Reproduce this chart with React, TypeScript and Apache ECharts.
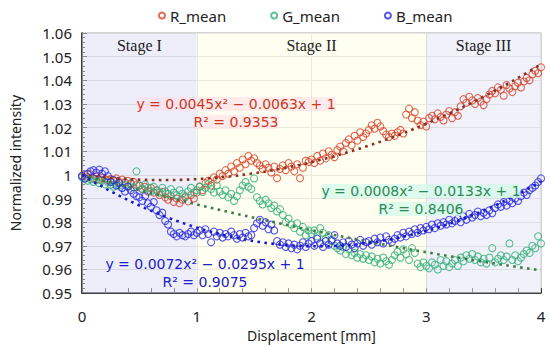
import React, { useEffect, useRef } from "react";
import * as echarts from "echarts";

// Displacement sampled every 0.025 mm from 0 to 4 mm (161 samples)
const X_STEP = 0.025;

const R_MEAN = [
  0.9995, 1.0000, 0.9990, 1.0002, 0.9985, 0.9992, 0.9980, 0.9988, 0.9983, 0.9978,
  0.9982, 0.9976, 0.9985, 0.9970, 0.9980, 0.9968, 0.9975, 0.9962, 0.9970, 0.9958,
  0.9955, 0.9940, 0.9950, 0.9930, 0.9945, 0.9925, 0.9935, 0.9915, 0.9928, 0.9905,
  0.9895, 0.9910, 0.9885, 0.9900, 0.9880, 0.9895, 0.9905, 0.9888, 0.9915, 0.9900,
  0.9925, 0.9950, 0.9935, 0.9965, 0.9975, 0.9955, 0.9990, 0.9980, 1.0005, 0.9995,
  1.0020, 1.0005, 1.0035, 1.0015, 1.0050, 1.0030, 1.0065, 1.0045, 1.0080, 1.0060,
  1.0070, 1.0050, 1.0040, 1.0025, 1.0045, 1.0030, 1.0010, 1.0035, 0.9986, 1.0025,
  1.0040, 1.0020, 1.0050, 1.0035, 1.0015, 1.0045, 0.9986, 1.0030, 1.0060, 1.0055,
  1.0065, 1.0050, 1.0080, 1.0060, 1.0090, 1.0070, 1.0100, 1.0085, 1.0075, 1.0105,
  1.0120, 1.0100, 1.0135, 1.0150, 1.0125, 1.0165, 1.0145, 1.0180, 1.0160, 1.0175,
  1.0190, 1.0210, 1.0195, 1.0220, 1.0205, 1.0185, 1.0170, 1.0160, 1.0175, 1.0165,
  1.0180, 1.0190, 1.0175, 1.0255, 1.0280, 1.0240, 1.0265, 1.0230, 1.0210, 1.0225,
  1.0205, 1.0240, 1.0250, 1.0235, 1.0260, 1.0245, 1.0230, 1.0255, 1.0270, 1.0240,
  1.0265, 1.0250, 1.0290, 1.0320, 1.0305, 1.0330, 1.0315, 1.0300, 1.0325, 1.0310,
  1.0295, 1.0320, 1.0340, 1.0355, 1.0345, 1.0370, 1.0360, 1.0335, 1.0380, 1.0365,
  1.0350, 1.0375, 1.0390, 1.0370, 1.0395, 1.0410, 1.0400, 1.0425, 1.0440, 1.0430, 1.0455,
];

const G_MEAN = [
  0.9990, 0.9985, 0.9975, 0.9982, 0.9970, 0.9978, 0.9965, 0.9975, 0.9960, 0.9970,
  0.9958, 0.9950, 0.9962, 0.9955, 0.9945, 0.9960, 0.9952, 0.9965, 0.9948, 1.0015,
  0.9955, 0.9940, 0.9960, 0.9945, 0.9930, 0.9950, 0.9935, 0.9925, 0.9945, 0.9930,
  0.9920, 0.9940, 0.9925, 0.9915, 0.9935, 0.9920, 0.9910, 0.9930, 0.9945, 0.9925,
  0.9935, 0.9950, 0.9928, 0.9945, 0.9960, 0.9940, 0.9925, 0.9955, 0.9930, 0.9915,
  0.9935, 0.9905, 0.9920, 0.9890, 0.9910, 0.9935, 0.9955, 0.9970, 0.9950, 0.9940,
  0.9985, 0.9905, 0.9890, 0.9875, 0.9895, 0.9880, 0.9860, 0.9870, 0.9845, 0.9855,
  0.9830, 0.9800, 0.9815, 0.9790, 0.9775, 0.9795, 0.9760, 0.9780, 0.9745, 0.9765,
  0.9750, 0.9765, 0.9740, 0.9775, 0.9755, 0.9730, 0.9745, 0.9720, 0.9700, 0.9690,
  0.9680, 0.9695, 0.9665, 0.9685, 0.9660, 0.9670, 0.9650, 0.9665, 0.9645, 0.9660,
  0.9640, 0.9655, 0.9630, 0.9645, 0.9625, 0.9650, 0.9635, 0.9620, 0.9640, 0.9660,
  0.9675, 0.9650, 0.9685, 0.9665, 0.9640, 0.9690, 0.9670, 0.9625, 0.9610, 0.9630,
  0.9615, 0.9605, 0.9630, 0.9620, 0.9600, 0.9640, 0.9615, 0.9635, 0.9610, 0.9625,
  0.9640, 0.9615, 0.9650, 0.9635, 0.9660, 0.9645, 0.9665, 0.9640, 0.9655, 0.9630,
  0.9645, 0.9625, 0.9650, 0.9690, 0.9630, 0.9645, 0.9660, 0.9640, 0.9655, 0.9710,
  0.9640, 0.9660, 0.9635, 0.9650, 0.9665, 0.9680, 0.9670, 0.9700, 0.9690, 0.9740, 0.9710,
];

const B_MEAN = [
  0.9995, 0.9985, 1.0005, 1.0015, 1.0020, 1.0010, 1.0022, 1.0005, 1.0015, 0.9995,
  0.9970, 0.9978, 0.9955, 0.9965, 0.9945, 0.9930, 0.9950, 0.9935, 0.9920, 0.9910,
  0.9905, 0.9890, 0.9910, 0.9880, 0.9865, 0.9885, 0.9850, 0.9830, 0.9840, 0.9805,
  0.9790, 0.9760, 0.9750, 0.9740, 0.9755, 0.9745, 0.9740, 0.9750, 0.9760, 0.9745,
  0.9755, 0.9765, 0.9745, 0.9770, 0.9750, 0.9715, 0.9760, 0.9740, 0.9755, 0.9735,
  0.9750, 0.9740, 0.9760, 0.9745, 0.9730, 0.9750, 0.9735, 0.9755, 0.9740, 0.9745,
  0.9775, 0.9795, 0.9810, 0.9785, 0.9800, 0.9770, 0.9790, 0.9765, 0.9720, 0.9705,
  0.9715, 0.9695, 0.9710, 0.9690, 0.9705, 0.9685, 0.9700, 0.9715, 0.9695, 0.9710,
  0.9720, 0.9700, 0.9730, 0.9710, 0.9695, 0.9720, 0.9705, 0.9725, 0.9745, 0.9710,
  0.9700, 0.9715, 0.9695, 0.9720, 0.9705, 0.9690, 0.9710, 0.9725, 0.9700, 0.9715,
  0.9720, 0.9705, 0.9730, 0.9715, 0.9735, 0.9710, 0.9740, 0.9725, 0.9715, 0.9730,
  0.9745, 0.9735, 0.9755, 0.9740, 0.9760, 0.9750, 0.9770, 0.9755, 0.9775, 0.9765,
  0.9780, 0.9770, 0.9790, 0.9775, 0.9795, 0.9785, 0.9800, 0.9790, 0.9810, 0.9795,
  0.9805, 0.9815, 0.9800, 0.9825, 0.9810, 0.9835, 0.9820, 0.9830, 0.9845, 0.9825,
  0.9840, 0.9830, 0.9850, 0.9838, 0.9860, 0.9875, 0.9865, 0.9885, 0.9870, 0.9890,
  0.9880, 0.9900, 0.9890, 0.9910, 0.9925, 0.9915, 0.9935, 0.9945, 0.9955, 0.9970, 0.9985,
];

// Quadratic trendline coefficients [a, b, c] for y = a x^2 + b x + c (as printed on the chart)
const R_FIT = [0.0045, -0.0063, 1];
const G_FIT = [0.0008, -0.0133, 1];
const B_FIT = [0.0072, -0.0295, 1];

const R_EQ = ["y = 0.0045x² − 0.0063x + 1", "R² = 0.9353"];
const G_EQ = ["y = 0.0008x² − 0.0133x + 1", "R² = 0.8406"];
const B_EQ = ["y = 0.0072x² − 0.0295x + 1", "R² = 0.9075"];

const STAGES = ["Stage I", "Stage II", "Stage III"];
const STAGE_BOUNDS = [[0, 1], [1, 3], [3, 4]];

const toPts = (arr: number[]) => arr.map((v, i) => [+(i * X_STEP).toFixed(3), v]);
const fitPts = (c: number[]) => {
  const pts: number[][] = [];
  for (let i = 0; i <= 80; i++) {
    const x = i * 0.05;
    pts.push([x, c[0] * x * x + c[1] * x + c[2]]);
  }
  return pts;
};

const FONT = '"Noto Sans", "DejaVu Sans", sans-serif';
const EQ_FONT = '"DejaVu Sans", sans-serif';

export default function App() {
  const ref = useRef<HTMLDivElement>(null);
  useEffect(() => {
    if (!ref.current) return;
    const chart = echarts.init(ref.current, undefined, { renderer: "svg" });

    const scatter = (name: string, data: number[], color: string, extra: any = {}) => ({
      name,
      type: "scatter",
      data: toPts(data),
      symbol: "circle",
      symbolSize: 7,
      itemStyle: { color: "rgba(0,0,0,0)", borderColor: color, borderWidth: 1.1 },
      z: 3,
      ...extra,
    });
    const trend = (name: string, c: number[], color: string) => ({
      name,
      type: "line",
      data: fitPts(c),
      showSymbol: false,
      symbol: "none",
      smooth: false,
      lineStyle: { color, width: 2.6, type: [2.6, 4.4] },
      z: 4,
      silent: true,
    });
    const oneText = (text: string, cx: number, y: number, color: string, bg: string) => ({
      type: "text",
      x: cx,
      y,
      z: 10,
      style: {
        text,
        fill: color,
        fontFamily: EQ_FONT,
        fontSize: 14,
        textAlign: "center",
        textVerticalAlign: "middle",
        align: "center",
        verticalAlign: "middle",
        backgroundColor: bg,
      },
    });
    const eqText = (lines: string[], cx: number, y1: number, y2: number, color: string, bg: string) => [
      oneText(lines[0], cx, y1, color, bg),
      oneText(lines[1], cx, y2, color, bg),
    ];

    const stageColors = ["rgba(222,222,248,0.5)", "rgba(255,255,228,0.5)", "rgba(228,230,244,0.55)"];

    chart.setOption({
      animation: false,
      backgroundColor: "#fff",
      textStyle: { fontFamily: FONT },
      legend: {
        data: ["R_mean", "G_mean", "B_mean"],
        top: 3,
        left: 153,
        itemGap: 44,
        itemWidth: 6,
        itemHeight: 6,
        icon: "circle",
        textStyle: { fontSize: 15, color: "#222", fontFamily: FONT },
      },
      grid: {
        left: 76, right: 9, top: 33, bottom: 47,
        show: true, borderColor: "#a8a8a8", borderWidth: 1,
      },
      xAxis: {
        type: "value",
        min: 0, max: 4, interval: 1,
        name: "Displacement [mm]",
        nameLocation: "middle",
        nameGap: 27,
        nameTextStyle: { fontSize: 14, color: "#222" },
        axisLine: { lineStyle: { color: "#111", width: 1.5 } },
        axisTick: { inside: true, length: 5, lineStyle: { color: "#333" } },
        minorTick: { show: true, splitNumber: 5, length: 5, lineStyle: { color: "#333" } },
        axisLabel: { fontSize: 15, color: "#222", margin: 15 },
        splitLine: { show: true, lineStyle: { color: "#d4d4d4", width: 1 } },
      },
      yAxis: {
        type: "value",
        min: 0.95, max: 1.06, interval: 0.01,
        name: "Normalized intensity",
        nameLocation: "middle",
        nameGap: 60,
        nameTextStyle: { fontSize: 14, color: "#222" },
        axisLine: { show: true, lineStyle: { color: "#111", width: 1.5 } },
        axisTick: { show: true, inside: true, length: 5, lineStyle: { color: "#333" } },
        minorTick: { show: true, splitNumber: 5, length: 3, lineStyle: { color: "#333" } },
        axisLabel: {
          fontSize: 15, color: "#222", margin: 10,
          formatter: (v: number) => String(parseFloat(v.toFixed(2))),
        },
        splitLine: { show: true, lineStyle: { color: "#d4d4d4", width: 1 } },
      },
      series: [
        scatter("R_mean", R_MEAN, "#d8432c", {
          markArea: {
            silent: true,
            data: STAGE_BOUNDS.map((b, i) => [
              {
                xAxis: b[0],
                yAxis: 1.06,
                itemStyle: { color: stageColors[i] },
                label: {
                  show: true,
                  position: "insideTop",
                  distance: 4,
                  formatter: STAGES[i],
                  fontFamily: '"Liberation Serif", "Times New Roman", serif',
                  fontSize: 16,
                  color: "#222",
                },
              },
              { xAxis: b[1], yAxis: 0.95 },
            ]),
          },
        }),
        scatter("G_mean", G_MEAN, "#34b07a"),
        scatter("B_mean", B_MEAN, "#2a2ae0"),
        trend("R_fit", R_FIT, "#8a2e1e"),
        trend("G_fit", G_FIT, "#3d7d45"),
        trend("B_fit", B_FIT, "#1818c8"),
      ],
      graphic: [
        ...eqText(R_EQ, 236, 104, 122, "#c93a22", "rgba(255,222,234,0.6)"),
        ...eqText(G_EQ, 421, 191, 209, "#2e8b57", "rgba(212,250,234,0.75)"),
        ...eqText(B_EQ, 205, 264, 282, "#2020c8", "rgba(255,255,255,0)"),
      ],
    });
    return () => chart.dispose();
  }, []);
  return (
    <div
      ref={ref}
      style={{ position: "absolute", left: 0, top: 0, width: 550, height: 347 }}
    />
  );
}
